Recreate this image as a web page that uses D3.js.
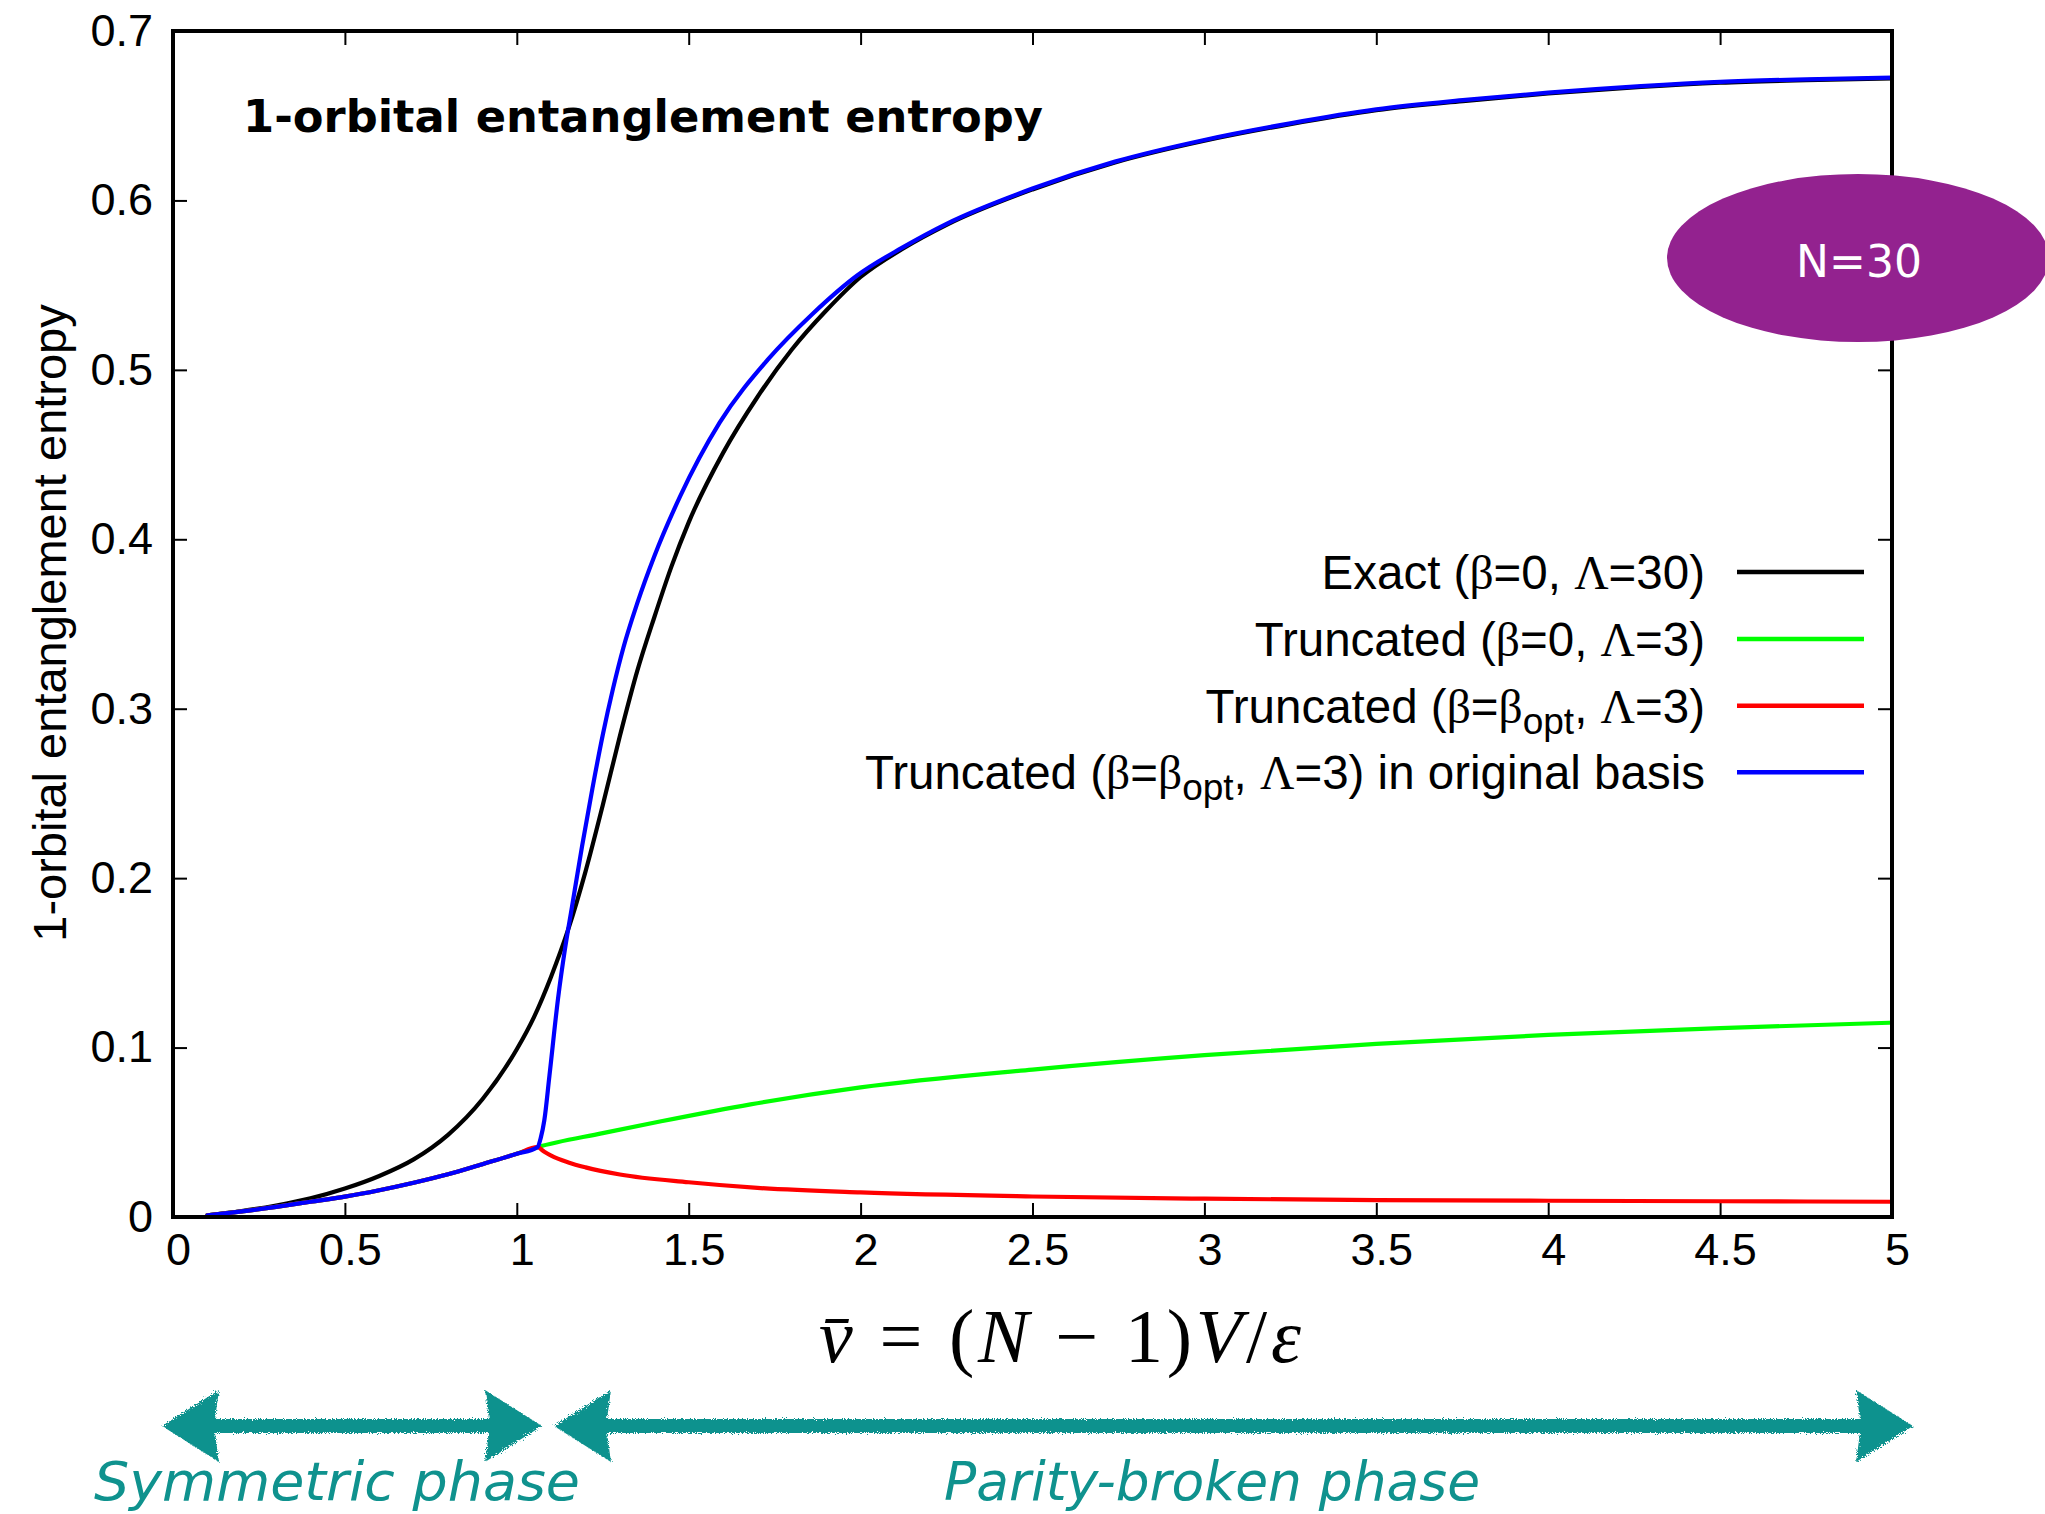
<!DOCTYPE html>
<html><head><meta charset="utf-8">
<script src="https://cdn.jsdelivr.net/npm/d3@7"></script>
<style>html,body{margin:0;padding:0;background:#fff;}svg{display:block;}</style>
</head><body>
<script>
// ---------- data ----------
const xTicks = [0, 0.5, 1, 1.5, 2, 2.5, 3, 3.5, 4, 4.5, 5];
const xTickLabels = ["0", "0.5", "1", "1.5", "2", "2.5", "3", "3.5", "4", "4.5", "5"];
const yTicks = [0, 0.1, 0.2, 0.3, 0.4, 0.5, 0.6, 0.7];
const yTickLabels = ["0", "0.1", "0.2", "0.3", "0.4", "0.5", "0.6", "0.7"];

// Exact (beta=0, Lambda=30)
const exactX = [0.1,0.2,0.3,0.4,0.5,0.6,0.7,0.8,0.9,1.0,1.05,1.1,1.15,1.2,1.25,1.3,1.35,1.4,1.45,1.5,1.6,1.7,1.8,1.9,2.0,2.12,2.25,2.5,2.74,3.0,3.25,3.5,3.76,4.0,4.27,4.5,4.75,5.0];
const exactY = [0.001,0.0035,0.0068,0.011,0.0168,0.0242,0.034,0.0485,0.0695,0.099,0.118,0.142,0.170,0.204,0.243,0.284,0.322,0.354,0.384,0.410,0.451,0.484,0.512,0.535,0.5548,0.5712,0.5856,0.6065,0.6224,0.6352,0.645,0.6532,0.6588,0.6631,0.667,0.6695,0.671,0.672];

// common truncated branch in the symmetric phase (all three truncated curves coincide)
const symX = [0.1,0.2,0.3,0.4,0.5,0.6,0.7,0.8,0.9,1.0,1.06];
const symY = [0.001,0.0033,0.006,0.009,0.012,0.0158,0.0202,0.0252,0.0312,0.0373,0.0412];

// Truncated (beta=0, Lambda=3) after the transition
const truncX = [1.25,1.42,1.68,2.0,2.5,3.0,3.5,4.0,4.5,5.0];
const truncY = [0.0495,0.0565,0.0665,0.0765,0.0870,0.0955,0.1022,0.1075,0.1115,0.1147];

// Truncated (beta=beta_opt, Lambda=3) after the transition
const optX = [1.08,1.1,1.15,1.2,1.3,1.5,1.7,2.0,2.5,3.0,3.5,4.0,4.5,5.0];
const optY = [0.0385,0.0362,0.0322,0.0293,0.0251,0.0205,0.0172,0.0145,0.0121,0.0108,0.0100,0.0096,0.0093,0.0090];

// Truncated (beta=beta_opt, Lambda=3) in original basis, after the transition
const origX = [1.07,1.08,1.095,1.12,1.14,1.16,1.19,1.22,1.25,1.28,1.31,1.35,1.40,1.475,1.59,1.73,1.86,1.99,2.12,2.25,2.5,2.74,3.0,3.25,3.5,3.76,4.0,4.27,4.5,4.75,5.0];
const origY = [0.047,0.057,0.0835,0.129,0.158,0.1825,0.219,0.253,0.2845,0.312,0.336,0.362,0.390,0.4253,0.4688,0.506,0.533,0.5557,0.5720,0.5862,0.607,0.6229,0.6357,0.6455,0.6537,0.6593,0.6636,0.6675,0.670,0.6715,0.6725];

const seriesColors = ["#000000", "#00ff00", "#ff0000", "#0000ff"];
const phaseLabels = ["Symmetric phase", "Parity-broken phase"];

// ---------- layout ----------
const W = 2045, H = 1514;
const P = {left: 173, right: 1892, top: 31, bottom: 1217};
const svg = d3.select("body").append("svg").attr("width", W).attr("height", H);
const x = d3.scaleLinear().domain([0, 5]).range([P.left, P.right]);
const y = d3.scaleLinear().domain([0, 0.7]).range([P.bottom, P.top]);

const zip = (xs, ys) => xs.map((v, i) => [v, ys[i]]);
const series = [
  zip(exactX, exactY),
  zip(symX, symY).concat(zip(truncX, truncY)),
  zip(symX, symY).concat(zip(optX, optY)),
  zip(symX, symY).concat(zip(origX, origY))
];

const defs = svg.append("defs");
defs.append("clipPath").attr("id", "clip").append("rect")
  .attr("x", P.left).attr("y", P.top).attr("width", P.right - P.left).attr("height", P.bottom - P.top);
const f = defs.append("filter").attr("id", "chalk").attr("x", "-5%").attr("y", "-20%").attr("width", "110%").attr("height", "140%");
f.append("feTurbulence").attr("type", "fractalNoise").attr("baseFrequency", 0.9).attr("numOctaves", 2).attr("seed", 3).attr("result", "n");
f.append("feDisplacementMap").attr("in", "SourceGraphic").attr("in2", "n").attr("scale", 6);

// axes (ticks inward on all four sides)
function styleAxis(g) {
  g.select(".domain").remove();
  g.selectAll(".tick line").attr("stroke", "#000").attr("stroke-width", 2);
  g.selectAll("text").attr("font-family", "'Liberation Sans', Arial, sans-serif").attr("font-size", 45).attr("fill", "#000");
}
svg.append("g").attr("transform", `translate(0,${P.bottom})`)
  .call(d3.axisBottom(x).tickValues(xTicks).tickFormat((d, i) => xTickLabels[i]).tickSize(-14).tickPadding(16))
  .call(styleAxis).selectAll("text").attr("dx", 5);
svg.append("g").attr("transform", `translate(0,${P.top})`)
  .call(d3.axisTop(x).tickValues(xTicks).tickFormat("").tickSize(-14)).call(styleAxis);
svg.append("g").attr("transform", `translate(${P.left},0)`)
  .call(d3.axisLeft(y).tickValues(yTicks).tickFormat((d, i) => yTickLabels[i]).tickSize(-14).tickPadding(20))
  .call(styleAxis);
svg.append("g").attr("transform", `translate(${P.right},0)`)
  .call(d3.axisRight(y).tickValues(yTicks).tickFormat("").tickSize(-14)).call(styleAxis);

// curves
const line = d3.line().x(d => x(d[0])).y(d => y(d[1])).curve(d3.curveMonotoneX);
svg.append("g").attr("clip-path", "url(#clip)").selectAll("path").data(series).join("path")
  .attr("d", line).attr("fill", "none").attr("stroke", (d, i) => seriesColors[i])
  .attr("stroke-width", 4.2).attr("stroke-linejoin", "round").attr("stroke-linecap", "round");

// frame
svg.append("rect").attr("x", P.left).attr("y", P.top).attr("width", P.right - P.left).attr("height", P.bottom - P.top)
  .attr("fill", "none").attr("stroke", "#000").attr("stroke-width", 4);

// title inside plot
svg.append("text").attr("x", 243).attr("y", 132)
  .attr("font-family", "'DejaVu Sans', sans-serif").attr("font-weight", "bold").attr("font-size", 44.8)
  .text("1-orbital entanglement entropy");

// y-axis title
svg.append("text").attr("transform", "translate(66,623) rotate(-90)").attr("text-anchor", "middle")
  .attr("font-family", "'Liberation Sans', Arial, sans-serif").attr("font-size", 47)
  .text("1-orbital entanglement entropy");

// x-axis title (math)
const xt = svg.append("text").attr("x", 1060).attr("y", 1362).attr("text-anchor", "middle")
  .attr("font-family", "'Liberation Serif', 'DejaVu Serif', serif").attr("font-size", 76)
  .attr("textLength", 482).attr("lengthAdjust", "spacing");
[["v\u0304", true], [" = (", false], ["N", true], [" \u2212 1)", false], ["V", true], ["/", false], ["\u03b5", true]]
  .forEach(([t, it]) => xt.append("tspan").attr("font-style", it ? "italic" : "normal").text(t));

// legend
const legY = [572, 639, 705.7, 772.3];
const legendParts = [
  [["Exact (", 0], ["\u03b2", 1], ["=0, ", 0], ["\u039b", 1], ["=30)", 0]],
  [["Truncated (", 0], ["\u03b2", 1], ["=0, ", 0], ["\u039b", 1], ["=3)", 0]],
  [["Truncated (", 0], ["\u03b2", 1], ["=", 0], ["\u03b2", 1], ["opt", 2], [", ", 0], ["\u039b", 1], ["=3)", 0]],
  [["Truncated (", 0], ["\u03b2", 1], ["=", 0], ["\u03b2", 1], ["opt", 2], [", ", 0], ["\u039b", 1], ["=3) in original basis", 0]]
];
const leg = svg.append("g");
legendParts.forEach((parts, i) => {
  const t = leg.append("text").attr("x", 1705).attr("y", legY[i] + 17).attr("text-anchor", "end")
    .attr("font-family", "'Liberation Sans', Arial, sans-serif").attr("font-size", 47.5);
  let shifted = false;
  parts.forEach(([s, k]) => {
    const ts = t.append("tspan").text(s);
    if (k === 1) ts.attr("font-family", "'Liberation Serif', serif");
    if (k === 2) { ts.attr("font-size", 37).attr("dy", 11); shifted = true; }
    else if (shifted) { ts.attr("dy", -11); shifted = false; }
  });
  leg.append("line").attr("x1", 1737).attr("x2", 1864).attr("y1", legY[i]).attr("y2", legY[i])
    .attr("stroke", seriesColors[i]).attr("stroke-width", 4.5);
});

// N=30 badge
svg.append("ellipse").attr("cx", 1858).attr("cy", 258).attr("rx", 191).attr("ry", 84).attr("fill", "#93228f");
svg.append("text").attr("x", 1859).attr("y", 277).attr("text-anchor", "middle")
  .attr("font-family", "'DejaVu Sans', sans-serif").attr("font-size", 44).attr("fill", "#fff").text("N=30");

// phase arrows
const teal = "#0f928e";
function dblArrow(x1, x2, yc, hl, hh, st) {
  return `M${x1},${yc} L${x1 + hl},${yc - hh} L${x1 + hl - 4},${yc - st / 2} L${x2 - hl + 4},${yc - st / 2} L${x2 - hl},${yc - hh} L${x2},${yc} L${x2 - hl},${yc + hh} L${x2 - hl + 4},${yc + st / 2} L${x1 + hl - 4},${yc + st / 2} L${x1 + hl},${yc + hh} Z`;
}
const arrows = [[162, 542], [554, 1913]];
svg.append("g").attr("filter", "url(#chalk)").selectAll("path").data(arrows).join("path")
  .attr("d", d => dblArrow(d[0], d[1], 1426, 57, 36, 14)).attr("fill", teal);
const phasePos = [[94, 486, 1500], [944, 536, 1500]];
svg.selectAll(".phase").data(phaseLabels).join("text").attr("class", "phase")
  .attr("x", (d, i) => phasePos[i][0]).attr("y", (d, i) => phasePos[i][2])
  .attr("textLength", (d, i) => phasePos[i][1]).attr("lengthAdjust", "spacingAndGlyphs")
  .attr("font-family", "'DejaVu Sans', sans-serif").attr("font-style", "italic").attr("font-size", 53)
  .attr("fill", teal).text(d => d);
</script>
</body></html>
